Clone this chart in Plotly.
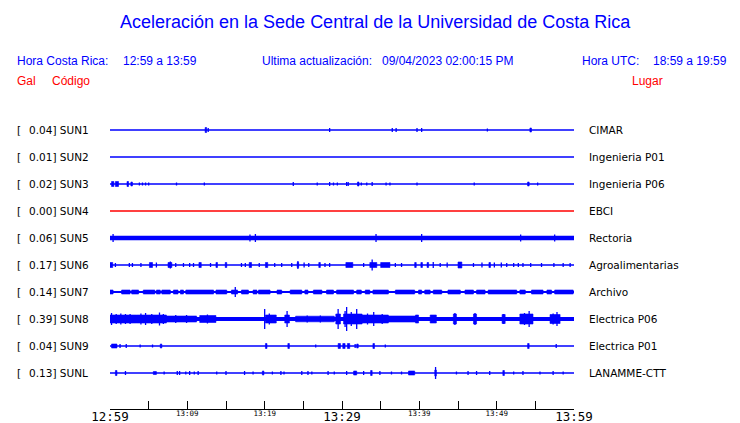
import plotly.graph_objects as go

# ---------------- data ----------------
codes = ["SUN1", "SUN2", "SUN3", "SUN4", "SUN5", "SUN6", "SUN7", "SUN8", "SUN9", "SUNL"]
places = ["CIMAR", "Ingenieria P01", "Ingenieria P06", "EBCI", "Rectoria",
          "Agroalimentarias", "Archivo", "Electrica P06", "Electrica P01", "LANAMME-CTT"]
peak_gal = [0.04, 0.01, 0.02, 0.00, 0.06, 0.17, 0.14, 0.39, 0.04, 0.13]
# background noise half-amplitude (picture px)
base_noise = [0.65, 0.65, 0.65, 0.65, 2.3, 0.85, 1.1, 2.1, 0.8, 0.8]

# events: (start minute, end minute, half-amplitude px); start == end -> single spike
sun1_ev = [(12.3, 12.5, 2.5), (12.7, 12.7, 2), (28.4, 28.4, 2), (36.5, 36.5, 2), (37.0, 37.0, 2),
           (39.7, 39.7, 2), (40.3, 40.3, 2), (48.8, 48.8, 1.5), (54.3, 54.5, 2)]
sun2_ev = []
sun3_ev = [(0.2, 0.5, 2.5), (0.7, 1.1, 2.5), (2.2, 2.4, 2.5), (2.7, 2.9, 2), (3.8, 3.8, 1.5),
           (4.2, 4.2, 1.5), (4.6, 4.6, 1.5), (5.0, 5.0, 1.5), (8.6, 8.6, 1.5), (12.2, 12.2, 1.5),
           (23.7, 23.7, 2), (26.8, 26.8, 1.5), (28.4, 28.4, 2), (28.9, 28.9, 1.5), (29.4, 29.4, 1.5),
           (30.6, 30.6, 2), (30.8, 30.8, 2), (32.0, 32.2, 2), (32.5, 32.5, 1.5), (33.2, 33.2, 1.5),
           (33.9, 33.9, 2), (35.7, 35.7, 1.5), (36.2, 36.2, 1.5), (39.7, 39.7, 1.5), (47.1, 47.1, 1.5),
           (54.0, 54.2, 2), (55.3, 55.3, 1.5)]
sun4_ev = []
sun5_ev = [(0.4, 0.4, 4), (18.1, 18.1, 3.5), (18.8, 18.8, 4), (34.4, 34.4, 4), (40.3, 40.3, 4),
           (53.1, 53.1, 3.5), (57.5, 57.5, 3.5)]
sun6_ev = [(0.0, 0.35, 2.5), (0.7, 0.7, 2), (2.5, 2.5, 2), (2.9, 2.9, 2), (4.0, 4.0, 2),
           (5.1, 5.5, 2.5), (6.0, 6.0, 2.5), (7.5, 8.0, 2.5), (7.8, 7.8, 3.5), (8.5, 8.5, 2),
           (9.5, 9.5, 2), (10.3, 10.3, 2), (10.8, 10.8, 2), (11.5, 11.8, 2.5), (13.0, 13.0, 2),
           (13.7, 13.9, 2.5), (14.9, 15.1, 2.5), (17.0, 17.0, 2), (17.5, 17.5, 2), (18.0, 18.3, 2.5),
           (19.3, 19.3, 2), (20.1, 20.4, 2.5), (21.3, 21.3, 2), (22.2, 22.2, 2), (23.5, 23.5, 2),
           (24.2, 24.4, 2.5), (24.3, 24.3, 4), (25.1, 25.1, 2.5), (25.7, 25.7, 2), (27.0, 27.2, 2.5),
           (27.8, 27.8, 2), (28.4, 28.4, 2), (30.5, 31.4, 2.5), (32.8, 32.8, 2), (33.6, 34.5, 2.5),
           (33.9, 33.9, 5.5), (35.0, 36.2, 2.5), (36.9, 36.9, 2), (37.7, 37.7, 2), (39.4, 39.6, 2.5),
           (40.2, 40.4, 2.5), (41.0, 41.2, 2.5), (41.8, 41.8, 3), (42.7, 42.7, 2), (43.6, 43.6, 2.5),
           (45.0, 45.5, 3), (47.0, 47.0, 2), (48.1, 48.1, 2.5), (49.0, 49.2, 2.5), (49.7, 49.7, 2.5),
           (50.6, 50.6, 2.5), (51.3, 51.3, 2), (52.2, 52.2, 2), (52.8, 52.8, 2), (53.4, 53.4, 2),
           (54.4, 54.4, 2), (55.8, 55.8, 2), (57.4, 57.4, 2), (58.6, 58.6, 2), (59.5, 59.5, 2)]
sun7_ev = [(0.0, 0.4, 2), (1.5, 2.6, 2), (2.8, 3.7, 2), (4.3, 5.8, 2), (6.0, 6.5, 2), (6.7, 7.8, 2),
           (8.2, 8.8, 2), (9.1, 9.5, 2), (9.8, 13.4, 2), (13.7, 15.1, 2), (15.7, 16.5, 2),
           (16.2, 16.2, 5), (17.0, 17.9, 2), (18.5, 19.0, 2), (19.2, 20.7, 2), (21.6, 22.2, 2),
           (23.3, 24.8, 2), (25.2, 25.6, 2), (26.3, 27.4, 2), (28.0, 28.9, 2), (29.3, 31.5, 2),
           (31.9, 32.5, 2), (33.0, 33.6, 2), (34.0, 36.0, 2), (36.9, 39.4, 2), (39.9, 40.3, 2),
           (40.7, 41.4, 2), (41.8, 42.9, 2), (43.7, 45.3, 2), (45.9, 47.0, 2), (47.4, 48.5, 2),
           (48.9, 52.6, 2), (53.0, 53.7, 2), (54.5, 56.0, 2), (56.5, 57.1, 2), (57.5, 59.9, 2)]
sun8_ev = [(0.0, 3.4, 4), (0.2, 0.2, 6), (0.8, 0.8, 5), (1.4, 1.4, 5.5), (2.0, 2.0, 5), (2.6, 2.6, 5),
           (3.4, 7.3, 4), (4.0, 4.0, 5.5), (4.6, 4.6, 6), (5.4, 5.4, 5), (6.4, 6.4, 6.5), (6.9, 6.9, 5),
           (7.3, 11.2, 3), (8.5, 8.5, 4), (9.9, 9.9, 4), (11.6, 13.7, 3.5), (12.6, 12.6, 4.5),
           (20.0, 20.0, 10), (20.1, 21.5, 4), (20.6, 20.6, 5.5), (22.6, 23.2, 4), (22.9, 22.9, 8),
           (24.0, 29.0, 2.8), (25.5, 25.5, 3.5), (27.2, 27.2, 3.5), (29.5, 29.5, 10), (29.2, 29.8, 5),
           (30.2, 32.6, 5), (30.4, 30.4, 8), (30.6, 30.6, 12), (31.2, 31.2, 7), (31.9, 31.9, 10),
           (32.6, 36.0, 4), (33.3, 33.3, 5.5), (34.1, 34.1, 7), (35.2, 35.2, 5), (36.0, 39.5, 3),
           (39.5, 39.9, 4), (41.4, 42.2, 4), (44.4, 44.8, 5), (44.6, 44.6, 6), (47.0, 47.4, 5),
           (47.2, 47.2, 6), (50.7, 51.1, 4.5), (50.9, 50.9, 5), (53.0, 54.7, 5), (53.6, 53.6, 6),
           (54.2, 54.2, 8), (56.9, 58.2, 4.5), (57.3, 57.3, 5.5), (57.8, 57.8, 7)]
sun9_ev = [(0.2, 0.9, 2), (1.3, 1.3, 2), (2.1, 2.1, 2), (3.9, 3.9, 1.5), (5.5, 5.5, 1.5),
           (6.5, 6.7, 2), (20.1, 20.3, 2.5), (23.0, 23.2, 2.5), (26.6, 26.6, 1.5), (29.5, 29.8, 2.5),
           (30.1, 30.4, 2.5), (30.7, 31.0, 2.5), (31.7, 31.7, 2), (31.9, 32.1, 2), (34.0, 34.2, 2.5),
           (35.6, 35.6, 1.5), (54.0, 54.2, 2.5), (57.7, 57.7, 2)]
sunl_ev = [(0.7, 0.9, 2.5), (2.0, 2.0, 2), (5.6, 6.0, 1.5), (7.0, 7.0, 1.5), (8.7, 8.7, 2),
           (9.0, 9.0, 2), (9.8, 9.8, 1.5), (10.3, 10.3, 2), (10.9, 10.9, 1.5), (11.4, 11.4, 2),
           (13.8, 13.8, 1.5), (15.0, 15.0, 2), (17.4, 17.4, 2), (18.5, 18.5, 1.5), (19.7, 19.9, 2),
           (21.0, 21.0, 1.5), (22.1, 22.1, 2), (22.5, 22.5, 1.5), (24.8, 24.8, 2), (25.6, 25.6, 2),
           (26.1, 26.1, 1.5), (28.2, 28.2, 2), (29.0, 29.0, 1.5), (30.6, 30.6, 2), (31.5, 31.9, 2),
           (32.8, 32.8, 2), (33.7, 33.9, 2.5), (34.9, 34.9, 2), (36.4, 36.4, 1.5), (37.7, 37.7, 1.5),
           (38.6, 39.4, 2), (42.0, 42.2, 3), (42.1, 42.1, 6), (44.8, 44.8, 1.5), (46.3, 46.3, 2),
           (47.4, 47.4, 2), (49.1, 49.1, 2), (50.8, 51.0, 2.5), (52.2, 52.2, 1.5), (53.4, 53.4, 2),
           (55.6, 55.6, 1.5), (57.3, 57.3, 2), (58.6, 58.6, 1.5)]
events = [sun1_ev, sun2_ev, sun3_ev, sun4_ev, sun5_ev, sun6_ev, sun7_ev, sun8_ev, sun9_ev, sunl_ev]

tick_minutes = [0, 5, 10, 15, 20, 25, 30, 35, 40, 45, 50, 55, 60]
major_minutes = [0, 30, 60]
major_labels = ["12:59", "13:29", "13:59"]
minor_minutes = [10, 20, 40, 50]
minor_labels = ["13:09", "13:19", "13:39", "13:49"]

title_text = "Aceleración en la Sede Central de la Universidad de Costa Rica"
hora_cr = "12:59 a 13:59"
actualizacion = "09/04/2023 02:00:15 PM"
hora_utc = "18:59 a 19:59"

# ---------------- figure ----------------
W, H = 740, 423
ROW_PX = 27.0
BLUE = "#0000ff"
RED = "#ff0000"

fig = go.Figure()
for i, (ev, noise, pk) in enumerate(zip(events, base_noise, peak_gal)):
    col = RED if pk == 0 else BLUE
    fig.add_trace(go.Scatter(x=[0, 60], y=[i, i], mode="lines",
                             line=dict(color=col, width=2 * noise), hoverinfo="skip"))
    bx, by, sx, sy = [], [], [], []
    for (t0, t1, a) in ev:
        h = a / ROW_PX
        if t1 > t0:
            bx += [t0, t1, t1, t0, t0, None]
            by += [i - h, i - h, i + h, i + h, i - h, None]
        else:
            sx += [t0, t0, None]
            sy += [i - h, i + h, None]
    if bx:
        fig.add_trace(go.Scatter(x=bx, y=by, mode="lines", fill="toself", fillcolor=col,
                                 line=dict(color=col, width=0.6), hoverinfo="skip"))
    if sx:
        fig.add_trace(go.Scatter(x=sx, y=sy, mode="lines",
                                 line=dict(color=col, width=1.3), hoverinfo="skip"))

# invisible trace so the second (minor-label) axis is active
fig.add_trace(go.Scatter(x=[0, 60], y=[0, 0], xaxis="x2", mode="lines",
                         line=dict(width=0), opacity=0, hoverinfo="skip"))

ann = []
lab_font = dict(family="DejaVu Sans", size=10.5, color="black")
for i, (c, p, pk) in enumerate(zip(codes, places, peak_gal)):
    ann.append(dict(x=15 / W, xref="paper", y=i, yref="y", text="[", showarrow=False,
                    xanchor="left", yanchor="middle", font=lab_font))
    ann.append(dict(x=27 / W, xref="paper", y=i, yref="y", text=f"{pk:.2f}] {c}", showarrow=False,
                    xanchor="left", yanchor="middle", font=lab_font))
    ann.append(dict(x=587 / W, xref="paper", y=i, yref="y", text=p, showarrow=False,
                    xanchor="left", yanchor="middle", font=lab_font))

hdr = dict(family="Liberation Sans, Arial, sans-serif", size=12, color=BLUE)
red = dict(family="Liberation Sans, Arial, sans-serif", size=12, color=RED)


def pa(text, px, py, font, anchor="left"):
    return dict(x=px / W, y=1 - py / H, xref="paper", yref="paper", text=text, showarrow=False,
                xanchor=anchor, yanchor="middle", font=font)


ann += [
    pa(title_text, 375, 22, dict(family="Liberation Sans, Arial, sans-serif", size=18, color=BLUE), "center"),
    pa("Hora Costa Rica:", 15, 60.5, hdr), pa(hora_cr, 120.5, 60.5, hdr),
    pa("Ultima actualización:", 260, 60.5, hdr), pa(actualizacion, 380, 60.5, hdr),
    pa("Hora UTC:", 580, 60.5, hdr), pa(hora_utc, 650.5, 60.5, hdr),
    pa("Gal", 15, 81, red), pa("Código", 50, 81, red), pa("Lugar", 630, 81, red),
]

major_text = [major_labels[major_minutes.index(m)] if m in major_minutes else "" for m in tick_minutes]

# y mapping: row i at pixel 130 + 27*i
y_top = -130 / ROW_PX
y_bot = y_top + H / ROW_PX
axis_pos = 1 - 409 / H
dom = [110 / W, 574 / W]

fig.update_layout(
    width=W, height=H, autosize=False,
    margin=dict(l=0, r=0, t=0, b=0, pad=0, autoexpand=False),
    paper_bgcolor="white", plot_bgcolor="white", showlegend=False,
    xaxis=dict(domain=dom, range=[0, 60], anchor="free", position=axis_pos,
               automargin=False,
               showline=True, linecolor="black", linewidth=1, ticks="inside", ticklen=8,
               tickcolor="black", tickwidth=1, tickvals=tick_minutes, ticktext=major_text,
               ticklabelstandoff=-4,
               tickfont=dict(family="DejaVu Sans Mono", size=12.5, color="black"),
               showgrid=False, zeroline=False, fixedrange=True),
    xaxis2=dict(domain=dom, range=[0, 60], anchor="free", position=axis_pos, overlaying="x",
                side="bottom", automargin=False, showline=False, ticks="",
                tickvals=minor_minutes, ticktext=minor_labels, ticklabelstandoff=-2,
                tickfont=dict(family="DejaVu Sans Mono", size=7.5, color="black"),
                showgrid=False, zeroline=False, fixedrange=True),
    yaxis=dict(domain=[0, 1], range=[y_bot, y_top], visible=False, fixedrange=True,
               automargin=False),
    annotations=ann,
)

fig.write_html("out.html", config={"displayModeBar": False, "responsive": False},
               post_script="document.body.style.margin='0px';document.body.style.overflow='hidden';")
